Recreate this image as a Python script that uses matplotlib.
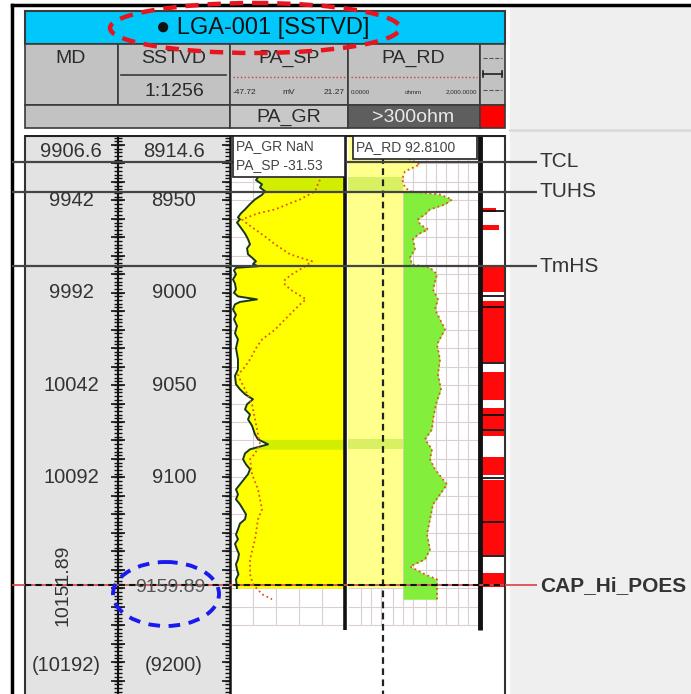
import numpy as np
import matplotlib
matplotlib.use("Agg")
import matplotlib.pyplot as plt
from matplotlib.patches import Rectangle, Ellipse

plt.rcParams['font.family'] = ['Liberation Sans', 'DejaVu Sans']

W, H = 691, 694
top_depth = 8914.6      # SSTVD at top of body
base_depth = 9217.3     # SSTVD at bottom of picture
md_shift = 992.0        # MD - SSTVD

scale_depths = [8950, 9000, 9050, 9100]

top_names = ['TCL', 'TUHS', 'TmHS']
top_depths = [8929.0, 8945.2, 8985.8]
cap_name = 'CAP_Hi_POES'
cap_depth = 9159.89
cap_md_label = '10151.89'

# PA_GR (API, scale 0-150)
gr_depth = [8937.5, 8939.0, 8941.3, 8943.0, 8945.1, 8947.0, 8949.5, 8952.0, 8954.9, 8957.0,
            8959.2, 8960.3, 8962.0, 8965.7, 8968.0, 8971.0, 8973.8, 8976.0, 8979.2, 8981.0,
            8983.0, 8984.5, 8985.7, 8986.5, 8988.0, 8990.0, 8992.8, 8995.0, 8998.2, 9000.0,
            9002.0, 9003.6, 9005.0, 9006.3, 9009.0, 9012.0, 9014.4, 9018.0, 9022.0, 9025.3,
            9030.0, 9036.1, 9041.5, 9045.0, 9049.6, 9052.3, 9055.0, 9057.7, 9060.4, 9063.2,
            9066.0, 9068.6, 9072.0, 9076.7, 9079.4, 9082.1, 9084.8, 9087.0, 9090.2, 9093.0,
            9095.6, 9098.3, 9101.0, 9103.8, 9106.5, 9109.2, 9111.9, 9114.6, 9117.3, 9120.0,
            9122.7, 9125.0, 9128.1, 9131.0, 9133.5, 9136.0, 9139.0, 9141.5, 9144.4, 9147.0,
            9149.8, 9152.5, 9155.2, 9159.9]
gr_api = [36.5, 33.9, 41.7, 39.1, 45.7, 41.7, 32.6, 26.1, 19.6, 14.3,
          10.4, 13.0, 9.1, 15.7, 19.6, 23.5, 26.1, 22.2, 23.5, 28.7,
          33.9, 30.0, 36.5, 7.8, 5.2, 7.8, 3.9, 6.5, 7.8, 5.2,
          10.4, 35.2, 13.0, 6.5, 3.9, 7.8, 5.2, 9.1, 6.5, 10.4,
          7.8, 10.4, 10.4, 6.5, 7.8, 13.0, 19.6, 30.0, 22.2, 19.6,
          26.1, 23.5, 28.7, 32.6, 36.5, 49.6, 26.1, 19.6, 17.0, 20.9,
          26.1, 23.5, 18.3, 13.0, 7.8, 10.4, 7.8, 13.0, 17.0, 20.9,
          19.6, 13.0, 10.4, 7.8, 10.4, 6.5, 9.1, 11.7, 10.4, 7.8,
          9.1, 11.0, 7.8, 9.1]

# PA_SP (mV, scale -47.72 to 21.27)
sp_depth = [8936.5, 8941.0, 8945.1, 8949.5, 8952.0, 8954.9, 8957.0, 8960.3, 8963.0, 8965.7,
            8970.0, 8973.8, 8979.2, 8983.0, 8985.7, 8987.4, 8990.0, 8992.8, 8995.0, 8998.2,
            9003.6, 9006.3, 9009.0, 9014.4, 9020.0, 9025.3, 9030.0, 9036.1, 9041.5, 9044.2,
            9047.0, 9052.3, 9060.4, 9068.6, 9076.7, 9082.1, 9087.0, 9090.2, 9098.3, 9106.5,
            9117.3, 9122.7, 9133.5, 9144.4, 9152.5, 9157.9, 9163.3, 9166.0]
sp_mv = [7.5, 5.1, 3.3, -5.7, -12.9, -20.7, -30.9, -40.5, -36.9, -32.7,
         -26.1, -20.7, -11.7, 1.5, -2.7, -5.7, -10.5, -14.7, -15.3, -11.7,
         -2.1, -5.7, -8.7, -14.7, -20.7, -28.5, -32.1, -35.7, -39.9, -42.9,
         -41.7, -38.7, -34.5, -32.7, -30.9, -29.7, -32.7, -35.7, -34.5, -30.9,
         -28.5, -30.9, -32.7, -35.7, -35.7, -33.9, -28.5, -22.5]

# PA_RD (ohmm, log scale 0.2-2000)
rd_depth = [8914.6, 8927.8, 8930.5, 8934.3, 8938.6, 8943.0, 8945.1, 8946.8, 8949.5, 8952.2,
            8954.9, 8957.6, 8960.3, 8963.0, 8965.7, 8968.4, 8971.1, 8976.5, 8980.9, 8984.7,
            8986.3, 8990.1, 8998.2, 9003.6, 9009.0, 9014.4, 9019.8, 9028.0, 9036.1, 9044.2,
            9052.3, 9060.4, 9068.6, 9074.0, 9079.4, 9084.8, 9090.2, 9095.6, 9103.8, 9109.2,
            9114.6, 9122.7, 9130.8, 9139.0, 9144.4, 9148.2, 9152.5, 9155.2, 9160.6, 9166.0]
rd_ohmm = [11.3, 16.2, 32.8, 11.3, 9.2, 11.3, 16.2, 135.5, 317.0, 193.0,
           66.7, 46.8, 28.5, 32.8, 57.9, 28.5, 20.0, 23.0, 16.2, 18.6,
           66.7, 109.5, 82.5, 117.6, 95.1, 135.5, 193.0, 109.5, 135.5, 117.6,
           145.0, 102.0, 82.5, 76.8, 46.8, 76.8, 66.7, 95.1, 222.0, 135.5,
           82.5, 66.7, 53.9, 66.7, 46.8, 16.2, 46.8, 109.5, 109.5, 109.5]
rd_cutoff = 10.0
rd_dash = 2.4

# lithology column: red intervals (top, base, width fraction) and black streaks
lith_top = [8954.1, 8963.3, 8986.1, 9004.5, 9042.9, 9062.4, 9088.9, 9101.4, 9151.7]
lith_base = [8956.3, 8966.0, 8999.6, 9037.5, 9058.1, 9077.6, 9098.7, 9142.0, 9159.3]
lith_width = [0.6, 0.75, 1.0, 1.0, 1.0, 1.0, 1.0, 1.0, 1.0]
lith_streaks = [8956.0, 9001.8, 9008.0, 9037.8, 9066.2, 9074.3, 9100.3, 9124.1, 9142.5, 9158.4]

green_bands = [(8937.5, 8945.2), (9079.4, 9084.8)]

# ---- figure ----
fig = plt.figure(figsize=(W / 100, H / 100), dpi=100)


def rect(x0, y0, x1, y1):
    return [x0 / W, 1 - y1 / H, (x1 - x0) / W, (y1 - y0) / H]


bg = fig.add_axes([0, 0, 1, 1], zorder=0)
bg.set_xlim(0, W)
bg.set_ylim(H, 0)
bg.axis('off')

# page frame and grey side panel
bg.add_patch(Rectangle((510, 7), W - 510, H - 7, color='#efefef', lw=0))
bg.plot([510, W], [130, 130], color='#dadada', lw=2)
bg.plot([12, W], [5, 5], color='black', lw=2.5)
bg.plot([12, 12], [5, H], color='black', lw=2.5)

# header
edge = '#3a3a3a'
txt_c = '#2a2a2a'
bg.add_patch(Rectangle((25, 11), 480, 33, fc='#00c8fa', ec=edge, lw=1.5))
bg.text(263, 28, '\u25cf LGA-001 [SSTVD]', ha='center', va='center', fontsize=17, color='#111111')
for x0, x1 in [(25, 118), (118, 230), (230, 348), (348, 480), (480, 505)]:
    bg.add_patch(Rectangle((x0, 44), x1 - x0, 61, fc='#c2c2c2', ec=edge, lw=1.2))
bg.text(71, 58, 'MD', ha='center', va='center', fontsize=14, color=txt_c)
bg.text(174, 58, 'SSTVD', ha='center', va='center', fontsize=14, color=txt_c)
bg.plot([121, 226], [75, 75], color=edge, lw=1.2)
bg.text(174, 91, '1:1256', ha='center', va='center', fontsize=14, color=txt_c)
bg.text(289, 58, 'PA_SP', ha='center', va='center', fontsize=14, color=txt_c)
bg.plot([233, 345], [77, 77], color='#d04040', lw=1, ls=':')
bg.text(233, 92, '-47.72', ha='left', va='center', fontsize=6, color=txt_c)
bg.text(289, 92, 'mV', ha='center', va='center', fontsize=6, color=txt_c)
bg.text(345, 92, '21.27', ha='right', va='center', fontsize=6, color=txt_c)
bg.text(413, 58, 'PA_RD', ha='center', va='center', fontsize=14, color=txt_c)
bg.plot([351, 477], [77, 77], color='#d04040', lw=1, ls=':')
bg.text(351, 92, '0.0000', ha='left', va='center', fontsize=4.5, color=txt_c)
bg.text(413, 92, 'ohmm', ha='center', va='center', fontsize=4.5, color=txt_c)
bg.text(477, 92, '2,000.0000', ha='right', va='center', fontsize=4.5, color=txt_c)
bg.plot([483, 502], [58, 58], color='#555555', lw=0.8, ls='--')
bg.plot([483, 502], [74, 74], color='#222222', lw=1.2)
bg.plot([483, 483], [71, 77], color='#222222', lw=1.2)
bg.plot([502, 502], [71, 77], color='#222222', lw=1.2)
bg.plot([483, 502], [90, 90], color='#555555', lw=0.8, ls='--')

bg.add_patch(Rectangle((25, 105), 205, 23, fc='#c2c2c2', ec=edge, lw=1.2))
bg.add_patch(Rectangle((230, 105), 118, 23, fc='#c8c8c8', ec=edge, lw=1.2))
bg.text(289, 117, 'PA_GR', ha='center', va='center', fontsize=14, color=txt_c)
bg.add_patch(Rectangle((348, 105), 132, 23, fc='#5e5e5e', ec=edge, lw=1.2))
bg.text(413, 117, '>300ohm', ha='center', va='center', fontsize=14, color='#e8e8e8')
bg.add_patch(Rectangle((480, 105), 25, 23, fc='#ff0000', ec=edge, lw=1.2))

# depth columns background
bg.add_patch(Rectangle((25, 135), 205, H - 135, fc='#e3e3e3', lw=0))

# ---- tracks ----
grid_c = '#dccfcf'
grid_depths = np.arange(8920, 9181, 10)
grid_base = 9180.0
line_base = 9182.5

ax_gr = fig.add_axes(rect(230, 135, 345, H), zorder=1)
ax_gr.set_xlim(0, 150)
ax_gr.set_ylim(base_depth, top_depth)
ax_gr.axis('off')
ax_gr.vlines([30, 60, 90, 120], top_depth, grid_base, color=grid_c, lw=0.8, zorder=0)
ax_gr.hlines(grid_depths, 0, 150, color=grid_c, lw=0.8, zorder=0)
ax_gr.fill_betweenx(gr_depth, gr_api, 150, color='#ffff00', lw=0, zorder=1)
gd = np.array(gr_depth)
for b0, b1 in green_bands:
    ax_gr.fill_betweenx(gr_depth, gr_api, 150, where=(gd >= b0) & (gd <= b1),
                        color='#7ed000', alpha=0.35, lw=0, zorder=1.5)
ax_gr.plot(gr_api, gr_depth, color='#183818', lw=1.4, zorder=3)

ax_sp = ax_gr.twiny()
ax_sp.set_xlim(-47.72, 21.27)
ax_sp.set_ylim(base_depth, top_depth)
ax_sp.axis('off')
ax_sp.plot(sp_mv, sp_depth, color='#e0502a', lw=1.3, ls=':', zorder=3)

ax_rd = fig.add_axes(rect(348, 135, 478, H), zorder=1)
ax_rd.set_xscale('log')
ax_rd.set_xlim(0.2, 2000)
ax_rd.set_ylim(base_depth, top_depth)
ax_rd.axis('off')
ax_rd.vlines([0.5, 1, 2, 5, 10, 20, 50, 100, 200, 500, 1000], top_depth, grid_base,
             color=grid_c, lw=0.8, zorder=0)
ax_rd.hlines(grid_depths, 0.2, 2000, color=grid_c, lw=0.8, zorder=0)
rdd = np.array(rd_depth)
rdv = np.array(rd_ohmm)
upper = rdd <= top_depths[1]
ax_rd.fill_betweenx(rdd[upper], 0.2, rdv[upper], color='#ffff8c', lw=0, zorder=1)
ax_rd.fill_betweenx([top_depths[1], cap_depth], 0.2, rd_cutoff, color='#ffff8c', lw=0, zorder=1)
ax_rd.fill_betweenx(rdd, rd_cutoff, rdv, where=(rdd >= top_depths[1] - 0.2) & (rdv >= rd_cutoff),
                    color='#84ee3c', lw=0, zorder=1)
for b0, b1 in green_bands:
    ax_rd.fill_betweenx([b0, b1], 0.2, rd_cutoff, color='#7ed000', alpha=0.3, lw=0, zorder=1.5)
ax_rd.plot(rd_ohmm, rd_depth, color='#e0502a', lw=1.3, ls=':', zorder=3)
ax_rd.vlines(rd_dash, top_depth, base_depth, color='#222222', lw=1.6, ls=(0, (3, 2)), zorder=4)

ax_lith = fig.add_axes(rect(482, 135, 505, H), zorder=1)
ax_lith.set_xlim(0, 1)
ax_lith.set_ylim(base_depth, top_depth)
ax_lith.axis('off')
for t, b, w in zip(lith_top, lith_base, lith_width):
    ax_lith.fill_betweenx([t, b], 0, w, color='#ff0a0a', lw=0)
ax_lith.hlines(lith_streaks, 0, 1, color='#111111', lw=1.3)

# ---- overlay: rulers, borders, tops ----
ov = fig.add_axes([0, 0, 1, (H - 135) / H], zorder=5)
ov.set_xlim(0, W)
ov.set_ylim(base_depth, top_depth)
ov.axis('off')

ov.vlines(25, top_depth, base_depth, color='#333333', lw=1.5)
ov.vlines(118, top_depth, base_depth, color='#111111', lw=1.5)
ov.vlines(230, top_depth, base_depth, color='#111111', lw=1.8)
ov.vlines(345.5, top_depth, line_base, color='#111111', lw=2.6)
ov.vlines(480, top_depth, line_base, color='#111111', lw=3.5)
ov.vlines(505.5, top_depth, base_depth, color='#333333', lw=1.5)
ov.hlines(top_depth + 0.6, 25, 505, color='#222222', lw=1.5)

minor = np.arange(8916, base_depth, 2.0)
major = np.arange(8920, base_depth, 10.0)
ov.hlines(minor, 114, 122, color='#111111', lw=1)
ov.hlines(major, 111, 125, color='#111111', lw=1.2)
ov.hlines(minor, 225, 230, color='#111111', lw=1)
ov.hlines(major, 222, 230, color='#111111', lw=1.2)

lab_c = '#333333'
ov.text(71, top_depth + 9.2, f'{top_depth + md_shift:.1f}', ha='center', va='center', fontsize=14.5, color=lab_c)
ov.text(174, top_depth + 9.2, f'{top_depth:.1f}', ha='center', va='center', fontsize=14.5, color=lab_c)
for d in scale_depths:
    ov.text(71, d, f'{d + md_shift:.0f}', ha='center', va='center', fontsize=14.5, color=lab_c)
    ov.text(174, d, f'{d}', ha='center', va='center', fontsize=14.5, color=lab_c)
ov.text(66, 9201.8, f'({9200 + md_shift:.0f})', ha='center', va='center', fontsize=14.5, color=lab_c)
ov.text(174, 9201.8, '(9200)', ha='center', va='center', fontsize=14.5, color=lab_c)

for name, d in zip(top_names, top_depths):
    ov.hlines(d, 12, 537, color='#444444', lw=1.6)
    ov.text(540, d, name, ha='left', va='center', fontsize=15, color='#333333')

ov.hlines(cap_depth - 1.5, 12, 537, color='#d85050', lw=1.3)
ov.hlines(cap_depth - 1.5, 25, 505, color='#111111', lw=1.5, ls=(0, (3, 2)))
ov.text(540, cap_depth - 1.5, cap_name, ha='left', va='center', fontsize=15, fontweight='bold', color='#333333')
ov.text(170, cap_depth - 0.5, f'{cap_depth:.2f}', ha='center', va='center', fontsize=14, color='#555555')
ov.text(63, cap_depth - 1.5, cap_md_label, ha='center', va='center', rotation=90, fontsize=14, color=lab_c)

# ---- annotations on top ----
top = fig.add_axes([0, 0, 1, 1], zorder=10)
top.set_xlim(0, W)
top.set_ylim(H, 0)
top.axis('off')
top.add_patch(Rectangle((233, 136), 112, 41, fc='white', ec='#222222', lw=1.2))
top.text(236, 146, 'PA_GR NaN', ha='left', va='center', fontsize=10, color='#444444')
top.text(236, 165, 'PA_SP -31.53', ha='left', va='center', fontsize=10, color='#444444')
top.add_patch(Rectangle((353, 136), 124, 23, fc='white', ec='#222222', lw=1.2))
top.text(356, 147, 'PA_RD 92.8100', ha='left', va='center', fontsize=10, color='#444444')
top.add_patch(Ellipse((255, 28), 290, 50, fill=False, ec='#e8141e', lw=3.2, ls=(0, (3, 2))))
top.add_patch(Ellipse((166, 594), 106, 64, fill=False, ec='#1a1aee', lw=2.8, ls=(0, (3, 2.2))))

fig.savefig('out.png', dpi=100)
